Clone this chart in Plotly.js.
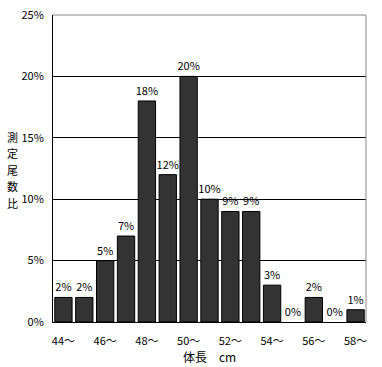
<!DOCTYPE html>
<html><head><meta charset="utf-8">
<script src="https://cdn.plot.ly/plotly-3.0.1.min.js"></script>
<style>html,body{margin:0;padding:0;background:#fff}#c{width:382px;height:367px}</style>
</head><body><div id="c"></div>
<script>
const categories = ["44～","45～","46～","47～","48～","49～","50～","51～","52～","53～","54～","55～","56～","57～","58～"];
const values = [2,2,5,7,18,12,20,10,9,9,3,0,2,0,1];
const tickLabels = ["44～","46～","48～","50～","52～","54～","56～","58～"];
const yTicks = [0,5,10,15,20,25];
const yTickLabels = ["0%","5%","10%","15%","20%","25%"];
const yTitleChars = ["測","定","尾","数","比"];
const fnt = "'Noto Sans CJK JP', 'DejaVu Sans', sans-serif";

const anns = yTitleChars.map((ch,i)=>({text:ch, xref:'paper', yref:'paper', x:-0.128, y:(322-(137+i*16.4))/307,
  xanchor:'center', yanchor:'middle', showarrow:false, font:{size:11}, height:14, borderpad:0}));

Plotly.newPlot('c', [{
  type:'bar', x:categories, y:values,
  marker:{color:'#333333', line:{color:'#000', width:values.map(v=>v>0?1:0)}},
  text: values.map(v=>v+'%'), textposition:'outside', cliponaxis:false, constraintext:'none',
  textfont:{family:fnt, size:11, color:'#000'},
  hoverinfo:'none'
}], {
  width:382, height:367,
  margin:{l:53, r:16, t:15, b:45},
  paper_bgcolor:'#fff', plot_bgcolor:'#fff',
  bargap:0.17, showlegend:false,
  font:{family:fnt, size:11, color:'#000'},
  xaxis:{type:'category', tickvals:tickLabels, ticktext:tickLabels, showline:true, linecolor:'#000', linewidth:1,
    ticks:'', showgrid:false, tickfont:{size:11}, ticklabelstandoff:9, title:{text:'体長　cm', font:{size:12}, standoff:0}},
  yaxis:{range:[0,25], tickvals:yTicks, ticktext:yTickLabels, showline:true, linecolor:'#000', linewidth:1,
    gridcolor:'#000', gridwidth:1, ticks:'', tickfont:{size:11}, ticklabelstandoff:6, zeroline:false},
  shapes:[
    {type:'line', xref:'paper', yref:'paper', x0:0, x1:1, y0:1, y1:1, line:{color:'#888', width:1}},
    {type:'line', xref:'paper', yref:'paper', x0:1, x1:1, y0:0, y1:1, line:{color:'#888', width:1}}
  ],
  annotations:anns
}, {staticPlot:true});
</script></body></html>
